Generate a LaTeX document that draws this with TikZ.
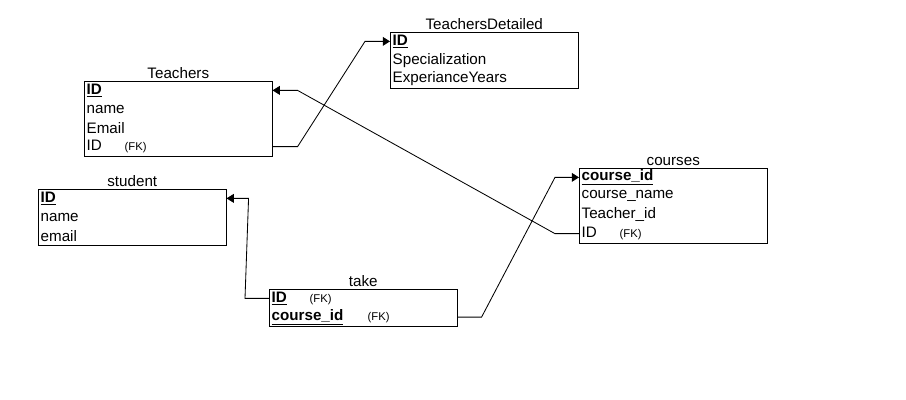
\documentclass[tikz,border=0pt]{standalone}
\usepackage{fontspec}
\setmainfont{Liberation Sans}
\usepackage{tikz}
\usetikzlibrary{arrows.meta,positioning,calc,fit}

\newcommand{\fktag}{{\fontsize{8pt}{9pt}\selectfont(FK)}}

\begin{document}
\begin{tikzpicture}[
    field/.style={inner xsep=0.06cm, inner ysep=0pt, text width=4.58cm, minimum height=0.455cm, align=left, font=\fontsize{10.8pt}{12pt}\selectfont},
    table/.style={draw=black, line width=0.6pt, inner sep=0pt},
    title/.style={anchor=south, inner sep=1pt, font=\fontsize{10.8pt}{12pt}\selectfont},
    fk/.style={line width=0.6pt, -{Triangle[length=1.8mm, width=2.2mm]}}
]
\useasboundingbox (0,0) rectangle (22.65,-10);

% Teachers
\node[field, anchor=north west] (t1) at (2.1,-2.025) {\underline{\textbf{ID}}};
\node[field, below=0pt of t1] (t2) {name};
\node[field, below=0pt of t2] (t3) {Email};
\node[field, below=0pt of t3] (t4) {\makebox[0.95cm][l]{ID}\fktag};
\node[table, fit=(t1)(t4)] (teachers) {};
\node[title] at (teachers.north) {Teachers};

% TeachersDetailed
\node[field, anchor=north west] (d1) at (9.75,-0.8) {\underline{\textbf{ID}}};
\node[field, below=0pt of d1] (d2) {Specialization};
\node[field, below=0pt of d2] (d3) {ExperianceYears};
\node[table, fit=(d1)(d3)] (detailed) {};
\node[title] at (detailed.north) {TeachersDetailed};

% student
\node[field, anchor=north west] (s1) at (0.95,-4.725) {\underline{\textbf{ID}}};
\node[field, below=0pt of s1] (s2) {name};
\node[field, below=0pt of s2] (s3) {email};
\node[table, fit=(s1)(s3)] (student) {};
\node[title] at (student.north) {student};

% take
\node[field, anchor=north west] (k1) at (6.725,-7.225) {\makebox[0.95cm][l]{\underline{\textbf{ID}}}\fktag};
\node[field, below=0pt of k1] (k2) {\makebox[2.4cm][l]{\underline{\textbf{course\_id}}}\fktag};
\node[table, fit=(k1)(k2)] (take) {};
\node[title] at (take.north) {take};

% courses
\node[field, anchor=north west] (c1) at (14.475,-4.2) {\underline{\textbf{course\_id}}};
\node[field, below=0pt of c1] (c2) {course\_name};
\node[field, below=0pt of c2] (c3) {Teacher\_id};
\node[field, below=0pt of c3] (c4) {\makebox[0.95cm][l]{ID}\fktag};
\node[table, fit=(c1)(c4)] (courses) {};
\node[title] at (courses.north) {courses};

% relations
\draw[fk] (t4.east) -- ++(0.625,0) -- ($(d1.west)+(-0.625,0)$) -- (d1.west);
\draw[fk] (c4.west) -- ++(-0.6,0) -- ($(t1.east)+(0.625,0)$) -- (t1.east);
\draw[fk] (k1.west) -- ++(-0.6,0) -- ($(s1.east)+(0.55,0)$) -- (s1.east);
\draw[fk] (k2.east) -- ++(0.6,0) -- ($(c1.west)+(-0.6,0)$) -- (c1.west);

\end{tikzpicture}
\end{document}
